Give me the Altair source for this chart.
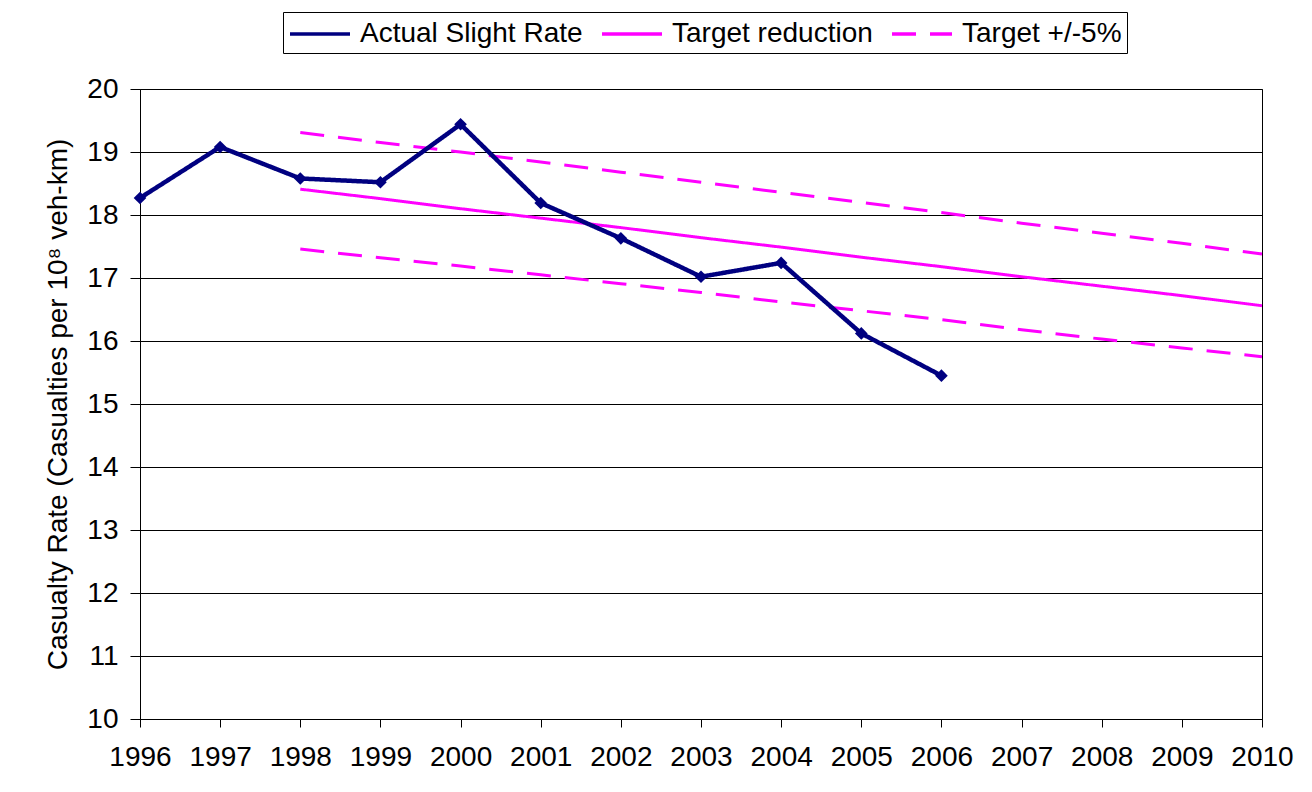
import altair as alt
import pandas as pd

# ---- data ----
actual_years = [1996, 1997, 1998, 1999, 2000, 2001, 2002, 2003, 2004, 2005, 2006]
actual_rate = [18.27, 19.08, 18.58, 18.52, 19.44, 18.19, 17.63, 17.02, 17.24, 16.12, 15.45]

target_years = [1998, 1999, 2000, 2001, 2002, 2003, 2004, 2005, 2006, 2007, 2008, 2009, 2010]
target_reduction = [18.41, 18.26, 18.10, 17.95, 17.80, 17.64, 17.49, 17.33, 17.18, 17.02, 16.87, 16.72, 16.56]
target_upper = [19.31, 19.15, 19.00, 18.84, 18.68, 18.52, 18.36, 18.20, 18.04, 17.87, 17.71, 17.55, 17.38]
target_lower = [17.46, 17.32, 17.19, 17.05, 16.91, 16.77, 16.62, 16.48, 16.34, 16.18, 16.03, 15.89, 15.75]

series_names = ["Actual Slight Rate", "Target reduction", "Target +/-5%"]
series_colors = ["#000080", "#FF00FF", "#FF00FF"]
series_dashes = [[1, 0], [1, 0], [24, 14]]

year_ticks = [1996, 1997, 1998, 1999, 2000, 2001, 2002, 2003, 2004, 2005, 2006, 2007, 2008, 2009, 2010]
rate_ticks = [10, 11, 12, 13, 14, 15, 16, 17, 18, 19, 20]

y_title = "Casualty Rate (Casualties per 10\u2078 veh-km)"

# ---- tables ----
actual_df = pd.DataFrame({
    "year": actual_years,
    "rate": actual_rate,
    "series": series_names[0],
    "line": "actual",
})
target_df = pd.concat([
    pd.DataFrame({"year": target_years, "rate": target_reduction,
                  "series": series_names[1], "line": "target"}),
    pd.DataFrame({"year": target_years, "rate": target_upper,
                  "series": series_names[2], "line": "upper"}),
    pd.DataFrame({"year": target_years, "rate": target_lower,
                  "series": series_names[2], "line": "lower"}),
], ignore_index=True)

FONT = "Arial"

legend = alt.Legend(
    title=None,
    orient="none",
    legendX=143,
    legendY=-77,
    direction="horizontal",
    symbolType="M-1,0H3",
    symbolSize=900,
    symbolStrokeWidth=3.5,
    labelFont=FONT,
    labelFontSize=28,
    labelColor="black",
    labelLimit=600,
    labelOffset=38,
    columnPadding=12,
    padding=5,
    strokeColor="black",
    fillColor="white",
)

x_enc = alt.X(
    "year:Q",
    scale=alt.Scale(domain=[1996, 2010], nice=False, zero=False),
    axis=alt.Axis(values=year_ticks, format="d", title=None, grid=False,
                  tickSize=8, labelPadding=16, labelOverlap=False,
                  labelFlush=False),
)
y_enc = alt.Y(
    "rate:Q",
    scale=alt.Scale(domain=[10, 20], nice=False, zero=False),
    axis=alt.Axis(values=rate_ticks, title=y_title, grid=True,
                  tickSize=10, labelPadding=12, titlePadding=14,
                  labelFlush=False),
)
color_enc = alt.Color(
    "series:N",
    scale=alt.Scale(domain=series_names, range=series_colors),
    legend=legend,
)
dash_enc = alt.StrokeDash(
    "series:N",
    scale=alt.Scale(domain=series_names, range=series_dashes),
    legend=legend,
)

targets = alt.Chart(target_df).mark_line(strokeWidth=3).encode(
    x=x_enc, y=y_enc, color=color_enc, strokeDash=dash_enc, detail="line:N"
)
actual_line = alt.Chart(actual_df).mark_line(strokeWidth=4.5).encode(
    x=x_enc, y=y_enc, color=color_enc, strokeDash=dash_enc, detail="line:N"
)
actual_pts = alt.Chart(actual_df).mark_point(
    shape="diamond", filled=True, size=160, opacity=1
).encode(x=x_enc, y=y_enc, color=alt.value("#000080"))

chart = alt.layer(targets, actual_line, actual_pts).properties(
    width=1122,
    height=630,
    autosize=alt.AutoSizeParams(type="none"),
    padding={"left": 132, "top": 81, "right": 42, "bottom": 65},
    background="white",
).configure_view(
    stroke="black", strokeWidth=1
).configure_axis(
    labelFont=FONT, labelFontSize=28, labelColor="black",
    titleFont=FONT, titleFontSize=28, titleColor="black", titleFontWeight="normal",
    domainColor="black", tickColor="black", gridColor="black",
    domainWidth=1, tickWidth=1, gridWidth=1,
)

chart.save("out.html", embed_options={"renderer": "svg", "actions": False})
